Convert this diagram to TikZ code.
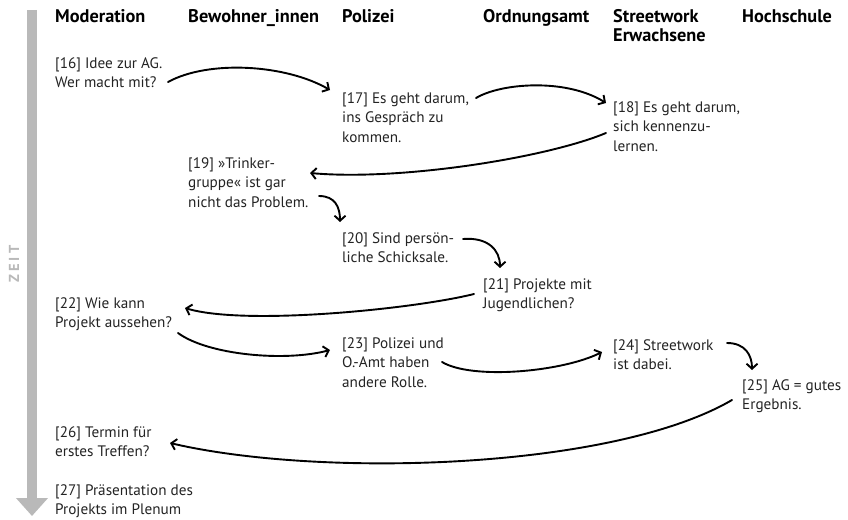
\documentclass[tikz,border=0pt]{standalone}
\usepackage{fontspec}
\setmainfont{PT Sans}
\usepackage{tikz}
\usetikzlibrary{arrows.meta}
\definecolor{zeitgray}{RGB}{185,185,185}
\definecolor{textcolor}{RGB}{35,35,35}
\newcommand{\entryfont}{\fontsize{15.2}{19.5}\selectfont}
\newcommand{\headfont}{\fontsize{18.3}{19}\selectfont\bfseries}

\begin{document}
\begin{tikzpicture}[
    x=1pt, y=-1pt,
    every node/.style={inner sep=0pt, anchor=north west, align=left},
    head/.style={font=\headfont},
    entry/.style={font=\entryfont, text=textcolor},
    flow/.style={-{Straight Barb[length=5pt,width=11pt]}, line width=1.9pt, line cap=round}
]
    \useasboundingbox (0,0) rectangle (848,519);

    % time axis
    \draw[zeitgray, line width=10.5pt, -{Triangle[length=18pt,width=31pt]}] (32,10) -- (32,516);
    \node[anchor=center, rotate=90, text=zeitgray, font=\fontsize{14.5}{14}\selectfont\bfseries] (zeit) at (14,264) {Z\kern3pt E\kern3pt I\kern3pt T};

    % column heads
    \node[head] (hmod)  at (55,9)  {Moderation};
    \node[head] (hbew)  at (188,9) {Bewohner\_innen};
    \node[head] (hpol)  at (342,9) {Polizei};
    \node[head] (hord)  at (483,9) {Ordnungsamt};
    \node[head] (hstr)  at (613,9) {Streetwork\\Erwachsene};
    \node[head] (hhoch) at (742,9) {Hochschule};

    % entries
    \node[entry] (n16) at (55,57)   {[16] Idee zur AG.\\Wer macht mit?};
    \node[entry] (n17) at (342,92)  {[17] Es geht darum,\\ins Gespräch zu\\kommen.};
    \node[entry] (n18) at (613,101) {[18] Es geht darum,\\sich kennenzu-\\lernen.};
    \node[entry] (n19) at (188,157) {[19] »Trinker-\\gruppe« ist gar\\nicht das Problem.};
    \node[entry] (n20) at (342,232) {[20] Sind persön-\\liche Schicksale.};
    \node[entry] (n21) at (483,278) {[21] Projekte mit\\Jugendlichen?};
    \node[entry] (n22) at (55,297)  {[22] Wie kann\\Projekt aussehen?};
    \node[entry] (n23) at (342,337) {[23] Polizei und\\O.-Amt haben\\andere Rolle.};
    \node[entry] (n24) at (613,339) {[24] Streetwork\\ist dabei.};
    \node[entry] (n25) at (742,379) {[25] AG = gutes\\Ergebnis.};
    \node[entry] (n26) at (55,426)  {[26] Termin für\\erstes Treffen?};
    \node[entry] (n27) at (55,484)  {[27] Präsentation des\\Projekts im Plenum};

    % flow of the talk
    \draw[flow] ([shift={(113,25)}]n16.north west) .. controls +(40,-22) and +(-45,-26) .. ([shift={(-12,-2)}]n17.north west);
    \draw[flow] ([shift={(134,6)}]n17.north west) .. controls +(25,-15) and +(-40,-25) .. ([shift={(-7,2)}]n18.north west);
    \draw[flow] ([shift={(-7,32)}]n18.north west) .. controls +(-60,25) and +(90,8) .. ([shift={(122,16)}]n19.north west);
    \draw[flow] ([shift={(131,39)}]n19.north west) .. controls +(16,0) and +(0,-15) .. ([shift={(-2,-10)}]n20.north west);
    \draw[flow] ([shift={(121,7)}]n20.north west) .. controls +(25,-2) and +(0,-18) .. ([shift={(17,-10)}]n21.north west);
    \draw[flow] ([shift={(-9,16)}]n21.north west) .. controls +(-60,15) and +(60,18) .. ([shift={(130,11)}]n22.north west);
    \draw[flow] ([shift={(123,36)}]n22.north west) .. controls +(30,22) and +(-45,12) .. ([shift={(-12,13)}]n23.north west);
    \draw[flow] ([shift={(100,25)}]n23.north west) .. controls +(30,18) and +(-40,20) .. ([shift={(-11,13)}]n24.north west);
    \draw[flow] ([shift={(114,4)}]n24.north west) .. controls +(18,0) and +(0,-15) .. ([shift={(10,-9)}]n25.north west);
    \draw[flow] ([shift={(-10,21)}]n25.north west) .. controls +(-120,70) and +(150,35) .. ([shift={(115,17)}]n26.north west);
\end{tikzpicture}
\end{document}
